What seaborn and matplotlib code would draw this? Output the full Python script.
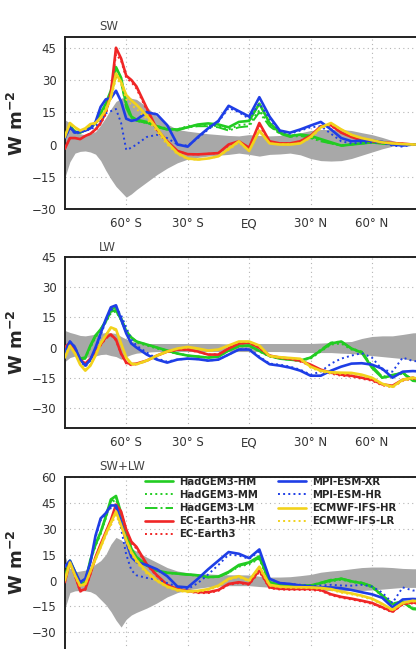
import matplotlib
matplotlib.use("Agg")
import matplotlib.pyplot as plt
from matplotlib.lines import Line2D
from matplotlib.ticker import MultipleLocator
import seaborn as sns

# ---------------- data ----------------
LAT = [-90, -87.5, -85, -82.5, -80, -77.5, -75, -72.5, -70, -67.5, -65, -62.5, -60, -57.5, -55,
       -50, -45, -40, -35, -30, -25, -20, -15, -10, -5, 0, 5, 10, 15, 20, 25, 30, 35, 40, 45,
       50, 55, 60, 65, 70, 75, 80, 85, 90]

MODELS = ["HadGEM3-HM", "HadGEM3-MM", "HadGEM3-LM", "EC-Earth3-HR", "EC-Earth3",
          "MPI-ESM-XR", "MPI-ESM-HR", "ECMWF-IFS-HR", "ECMWF-IFS-LR"]

XTICKS = [-60, -30, 0, 30, 60]
XTICKLABELS = ["60° S", "30° S", "EQ", "30° N", "60° N"]
PANEL_TITLES = ["SW", "LW", "SW+LW"]

# SW panel
sw_band_lo = [-15.5, -8, -4, -3.2, -3, -3.5, -4.5, -7.5, -12, -16, -19.5, -22, -24.5, -23, -21,
              -17.5, -14, -11, -8.5, -6.8, -6, -5.4, -5, -4.6, -4, -4.6, -5.4, -4.6, -4.4, -4, -4.8,
              -6.5, -7.5, -7.7, -7.5, -6.5, -5, -3.5, -2, -0.8, 0, 0, 0, 0]
sw_band_hi = [11.5, 10, 6, 5, 4.5, 5, 6, 9, 12.5, 16.5, 20, 21.5, 22.5, 21.5, 21,
              17.5, 13, 9.5, 7, 6.2, 5.6, 5, 4.6, 4.2, 4, 4.6, 4.2, 4, 4.2, 4.6, 5.4,
              6.5, 7, 7, 7, 6.5, 5.5, 4.6, 3.3, 1.8, 0.5, 0, 0, 0]
sw_had_hm = [4, 8.5, 6, 5.5, 7, 8, 10, 14.5, 19, 25, 36, 31, 19, 13, 11.5,
             10.5, 8.5, 7, 7, 8, 9.3, 9.8, 9.3, 8, 10.5, 11, 19, 10, 5.5, 4, 4.6,
             4, 2.5, 1, -0.5, 0, 0.5, 1, 0.5, 0.2, 0, 0, 0, 0]
sw_had_mm = [4, 8, 6, 5.5, 6.5, 8, 10, 14, 18.5, 24, 33, 30, 18, 12.5, 11,
             10, 8.5, 7.5, 7, 8.5, 9, 9, 8.5, 7, 9, 9.5, 16, 9, 5, 4, 4.5,
             3.5, 2, 0.5, -0.5, 0, 0.5, 1, 0.5, 0.2, 0, 0, 0, 0]
sw_had_lm = [4, 8, 5.5, 5.5, 6.5, 7.5, 9.5, 13.5, 18, 23, 32, 29, 17, 12, 11,
             10, 8, 7, 6.5, 8, 8.5, 8.5, 8, 6.5, 8, 8.5, 15, 8.5, 5, 3.5, 4,
             3, 1.5, 0.5, -0.5, 0, 0.5, 1, 0.5, 0.2, 0, 0, 0, 0]
sw_ec_hr = [-2, 3, 3, 2.5, 4, 5, 7, 10, 15, 24, 45, 40, 32, 30, 27,
            17, 7, 1.5, -3, -4.5, -4.6, -4.3, -4, 0, 1.5, -1.5, 10, 1.5, 0.5, 0.5, 1.5,
            4, 8.5, 9, 5.5, 3.5, 2, 1.5, 1, 0.7, 0.4, 0, 0, 0]
sw_ec = [-2, 3, 3, 2.5, 4, 5, 6.5, 9.5, 14, 23, 42, 39, 31, 29, 26,
         16, 6.5, 1, -3, -4.5, -4.6, -4.3, -4, -0.5, 1, -2, 9, 1, 0.5, 0.5, 1.5,
         4, 8, 8.5, 5.5, 3.5, 2, 1.5, 1, 0.7, 0.4, 0, 0, 0]
sw_mpi_xr = [3, 8, 5.5, 6, 6.5, 7.5, 10.5, 17.5, 21, 21.5, 25, 20, 12, 11, 11.5,
             15, 14, 9, 0, -1, 3.5, 7.5, 11, 18, 15.5, 13, 22, 13, 6.5, 5.5, 7,
             8.8, 10.5, 7, 3, 1.5, 1.8, 1.8, 1.2, 0, -0.5, 0, 0, 0]
sw_mpi_hr = [3, 7.5, 5, 5.5, 6.5, 7, 8.5, 11, 14.5, 15.5, 16.5, 10, -2.5, -1.5, 0,
             3.5, 4.5, 3, 0, -0.5, 3, 7, 10.5, 17, 15, 12, 19, 12, 6, 5, 6.5,
             8, 8.5, 5, 1.5, 0.5, 0.8, 1, 0.8, -0.5, -1, 0, 0, 0]
sw_ifs_hr = [3.5, 10, 8, 6.5, 7.5, 9.5, 10, 12.5, 16, 22, 33, 29, 23, 20.5, 18.5,
             13.5, 7.5, 1, -4, -6.5, -7, -6.5, -5.5, -2, 1.5, -3, 6.5, 0.5, 0, 0, 0.5,
             3.5, 8, 10, 7, 4.5, 3, 2, 1, 0.5, 0.2, 0, 0, 0]
sw_ifs_lr = [3.5, 9.5, 7.5, 6.5, 7, 9, 9.5, 12, 15.5, 21, 31, 28, 21, 18.5, 16.5,
             12, 6, 0, -4.5, -6.8, -7, -6.5, -5.5, -2.5, 1, -3, 6, 0.5, 0, 0, 0.5,
             3, 7.5, 9.5, 7, 4.5, 3, 2, 1, 0.5, 0.2, 0, 0, 0]

# LW panel
lw_band_lo = [-7, -5, -4.2, -4.8, -5, -4.5, -4.2, -3.5, -3.3, -4, -4.5, -5.8, -4.5, -3.5, -2.8,
              -2.3, -2, -2, -2, -2, -2, -2, -2, -2, -2, -2, -2, -2, -2, -2.2, -2.5,
              -2.5, -2.5, -2.5, -2.8, -3, -3.5, -4, -4.5, -5, -5.5, -6.5, -7, -7]
lw_band_hi = [8.5, 7.5, 6.8, 6, 5.8, 6.2, 6.7, 7, 7.5, 7.3, 7, 5.5, 4.2, 3.2, 2.5,
              2, 2, 2, 2, 2, 2, 2, 2, 1.8, 2, 2, 2, 2, 2, 2, 2,
              2, 2.2, 2.5, 2.8, 3, 4.5, 5.5, 5.8, 5.8, 6.5, 7.3, 7.5, 7.5]
lw_had_hm = [-2, 1.5, -1, -5.5, -5, 1, 6, 9, 13, 18, 18.5, 14, 8, 5, 3,
             1.5, 0, -1.5, -3, -4, -4.5, -5, -4.5, -1.5, 0.8, 1, -1.7, -4.2, -5.5, -6, -6.5,
             -5, -1.5, 2, 3, -0.5, -2.5, -10, -15, -14, -12.5, -16.5, -17, -17]
lw_had_mm = [-2, 1.5, -1.5, -6, -5.5, 0, 5, 8.5, 12.5, 17, 18, 13.5, 7.5, 4.5, 2.5,
             1, -0.5, -2, -3, -4, -4.5, -5, -4.5, -1.5, 0.5, 0.8, -2, -4.5, -5.5, -6, -6.5,
             -5.5, -2, 1.5, 2, -1, -2.5, -9.5, -15, -14, -13, -16.5, -17, -17]
lw_had_lm = [-2, 1, -1.5, -6, -5.5, 0.5, 5.5, 9, 13.5, 19, 20, 15, 8.5, 5, 3,
             1.5, 0, -1.5, -3, -4, -4.5, -5, -4.5, -1.5, 0.5, 1, -1.5, -4, -5.5, -6, -6.5,
             -5, -1, 2.5, 3, -0.5, -2, -9, -14.5, -13.5, -12.5, -16, -17, -17]
lw_ec_hr = [0, 2.5, -1.5, -6, -8, -5.5, -2, 1.5, 5, 6.5, 4, -3, -7.5, -8.3, -8,
            -6.5, -4, -2, -1, -1, -2, -3.5, -3.5, -0.5, 2, 2.5, 0, -4, -5, -5.5, -6.5,
            -8.5, -11, -12.5, -13.5, -14, -15, -16, -18.3, -19, -16, -15, -17, -17]
lw_ec = [0, 2, -2, -6.5, -8.5, -6, -2.5, 1, 4.5, 6, 3.5, -3.5, -8, -8.8, -8.3,
         -6.5, -4.2, -2.2, -1.2, -1.2, -2.2, -3.5, -3.3, -0.5, 2, 2.2, -0.3, -4.2, -5.2, -5.8, -7,
         -9, -11.5, -13, -14, -14.5, -15.5, -16.5, -18.8, -19.5, -16.5, -15.5, -17, -17]
lw_mpi_xr = [-2.5, 3, 0, -6, -9, -6, 0, 7, 14, 20, 21, 14, 7, 2, 0,
             -3.5, -6, -7.5, -6, -5.5, -5.8, -6.5, -6, -3.5, -1, -1, -5, -8.3, -9, -10, -11.5,
             -14, -14, -11.5, -9.5, -8, -7.8, -8.5, -10.5, -15, -12, -11.7, -12, -12]
lw_mpi_hr = [-1.5, 3, 0.5, -6.5, -9.5, -6.5, -0.5, 6, 13, 18.5, 20, 16, 10, 4, 1,
             -2.5, -5.5, -7, -6, -5.5, -5.8, -6.5, -6, -3.5, -1, -0.5, -4.5, -8, -8.5, -9.5, -11,
             -13.5, -12, -8, -5.5, -4, -2.8, -5, -11, -12, -5, -6.7, -7, -7]
lw_ifs_hr = [-5, 0.8, -3, -8.5, -11.5, -9, -4, 2, 6, 10, 9, 2, -5, -8, -8.3,
             -6.5, -4, -2, -0.5, 0.3, -0.5, -1.5, -1, 1, 3, 3, 1, -4.2, -4.8, -5.2, -5.6,
             -9.5, -11.5, -12.3, -12.5, -12.6, -13.5, -15, -18, -19.5, -16, -15, -16, -16]
lw_ifs_lr = [-4.5, 1, -3, -8, -11, -8.5, -3.5, 2.5, 6.5, 9.5, 8.5, 1.5, -5.5, -8.5, -8.5,
             -6.8, -4.2, -2.2, -0.7, 0, -0.8, -1.8, -1.2, 0.8, 2.8, 2.8, 0.7, -4.5, -5, -5.4, -5.8,
             -10, -12, -12.8, -13, -13, -14, -15.5, -18.5, -20, -16.5, -15.5, -16.5, -16.5]

# SW+LW panel
net_band_lo = [-16.5, -7, -6, -5.8, -6, -6.5, -8, -11, -14, -18, -23, -27, -22.5, -20, -18.5,
               -16, -13, -9.5, -7, -5.5, -4.5, -3.7, -3.3, -3, -3, -3, -3.5, -3.9, -3.5, -3.9, -4.5,
               -5, -5.5, -5.8, -5.8, -5.8, -5.8, -5.5, -5, -4.5, -4, -4, -4, -4]
net_band_hi = [14.5, 7, 5, 5.5, 6, 7, 9.5, 11.5, 15, 21, 25, 23.5, 20.5, 18.5, 17,
               13.5, 10.5, 7.5, 5.5, 4.5, 4, 3.8, 3.5, 3.3, 3.3, 3.2, 2.5, 2, 2, 2.2, 2.8,
               3.5, 4.8, 5.5, 6, 6.8, 7.5, 7.8, 7.8, 7.5, 7, 6.8, 6.8, 6.8]
net_had_hm = [2, 11.5, 5, -2, -1, 12, 21, 28, 37, 47, 49, 39, 28, 18.5, 13.6,
              8.8, 5.8, 4.5, 4, 3.5, 3, 2, 2.3, 5, 9, 10.5, 14, -1, -2.5, -2.9, -2.9,
              -2.9, -1.5, 0, 1, -0.5, -1.5, -3.5, -8.8, -13.6, -12.5, -16.5, -17, -17]
net_had_mm = [2, 11, 4.5, -2.5, -1.5, 11, 20, 27, 36, 45, 47, 38, 27, 18, 13,
              8.5, 5.5, 4.5, 4, 3.5, 3, 2, 2, 4.5, 8, 9.5, 12.5, -1.5, -2.8, -3, -3,
              -3, -1.8, -0.5, 0.5, -0.8, -1.8, -4, -9, -14, -13, -16.5, -17, -17]
net_had_lm = [2, 11, 4.5, -2.5, -1.5, 11.5, 20.5, 27.5, 36.5, 46, 48, 38.5, 27.5, 18, 13.2,
              8.6, 5.6, 4.3, 3.8, 3.3, 2.8, 1.8, 2, 4.5, 8.5, 10, 13, -1.2, -2.6, -3, -3,
              -2.8, -1.2, 0.5, 1.2, -0.3, -1.2, -3.2, -8.5, -13.2, -12.2, -16, -16.5, -16.5]
net_ec_hr = [-1, 11, 3, -6, -5, 4, 13.5, 21, 28, 35, 44, 40, 29.5, 22.5, 19.5,
             9.5, 3, -2.5, -5, -6, -6.8, -6.8, -5.5, -2, -1, -2, 6, -4, -4.8, -4.9, -4.9,
             -4.9, -5.5, -8, -9.5, -10.5, -11.7, -13, -15.5, -18, -13.5, -12.7, -14, -14]
net_ec = [-1, 10.5, 2.5, -6.5, -5.5, 3.5, 13, 20, 27, 33, 41, 38, 28, 21.5, 18.5,
          9, 2.5, -3, -5.5, -6.5, -7.3, -7.3, -6, -2.5, -1.5, -2.5, 5, -4.5, -5.2, -5.4, -5.4,
          -5.5, -6, -8.5, -10, -11, -12.2, -13.5, -16, -18.5, -14, -13.2, -14.5, -14.5]
net_mpi_xr = [8, 11.5, 5, -1, 1, 10.5, 26, 36, 39, 43.5, 43.5, 34, 22.4, 13.6, 10.7,
              9, 6.5, 2.5, -3.5, -4, 1, 6.5, 11.5, 16.5, 15.5, 13, 18, 1, -1.5, -2, -2.9,
              -3.5, -4, -4, -4.5, -5.5, -6.8, -8, -10, -15.5, -11, -10.7, -11, -11]
net_mpi_hr = [8, 11, 4.5, -1.5, 0.5, 10, 25, 35, 38.5, 42, 42, 30, 15, 6, 3,
              1.5, 0.5, -1.5, -3.5, -5, -1.5, 3.5, 9, 15, 14.5, 12.5, 17, 1, -1.5, -2, -2.5,
              -3, -3, -2.5, -2.9, -3, -2.5, -3.5, -7, -13, -4, -5.8, -6, -6]
net_ifs_hr = [0, 10.5, 3, -3, -2, 5.5, 12.5, 19.5, 27, 33.5, 40, 32, 23.5, 16.5, 11.7,
              5, 0, -3.5, -5.5, -6.3, -6, -5, -3, 1, 2.5, 0, 8, -2.5, -3.5, -3.8, -3.9,
              -4, -4.3, -5, -6.5, -7.5, -8.8, -10.5, -13.5, -17, -13, -11.7, -12.5, -12.5]
net_ifs_lr = [0, 10, 2.5, -3.5, -2.5, 5, 12, 19, 26, 32, 38, 31, 22.5, 15.5, 10.5,
              4, -0.5, -4, -6, -6.8, -6.5, -5.5, -3.5, 0.5, 2, -0.5, 7, -3, -4, -4.2, -4.3,
              -4.5, -4.8, -5.5, -7, -8, -9.3, -11, -14, -17.5, -13.5, -12.2, -13, -13]

PANELS = [
    dict(band=(sw_band_lo, sw_band_hi),
         series=[sw_had_hm, sw_had_mm, sw_had_lm, sw_ec_hr, sw_ec, sw_mpi_xr, sw_mpi_hr, sw_ifs_hr, sw_ifs_lr],
         yticks=[-30, -15, 0, 15, 30, 45], ylim=(-30, 50)),
    dict(band=(lw_band_lo, lw_band_hi),
         series=[lw_had_hm, lw_had_mm, lw_had_lm, lw_ec_hr, lw_ec, lw_mpi_xr, lw_mpi_hr, lw_ifs_hr, lw_ifs_lr],
         yticks=[-30, -15, 0, 15, 30, 45], ylim=(-40, 45)),
    dict(band=(net_band_lo, net_band_hi),
         series=[net_had_hm, net_had_mm, net_had_lm, net_ec_hr, net_ec, net_mpi_xr, net_mpi_hr, net_ifs_hr, net_ifs_lr],
         yticks=[-30, -15, 0, 15, 30, 45, 60], ylim=(-40, 60)),
]

# ---------------- style ----------------
GREEN, RED, BLUE, YELLOW = "#22cc22", "#f02626", "#1e3ee6", "#f2d21c"
COLORS = [GREEN, GREEN, GREEN, RED, RED, BLUE, BLUE, YELLOW, YELLOW]
STYLES = ["-", ":", "-.", "-", ":", "-", ":", "-", ":"]
WIDTHS = [1.9, 1.4, 1.4, 1.9, 1.4, 1.9, 1.4, 1.9, 1.4]

sns.set_style("white")
plt.rcParams["font.family"] = ["DejaVu Sans"]
plt.rcParams["axes.unicode_minus"] = True

W, H = 416, 649
fig = plt.figure(figsize=(W / 100, H / 100), dpi=100)


def axpos(left, top, right, bottom):
    return [left / W, 1 - bottom / H, (right - left) / W, (bottom - top) / H]


boxes = [(64.8, 37, 433.4, 209), (64.8, 257, 433.4, 428), (64.8, 477, 433.4, 649.5)]
title_y = [27, 247, 467]

axes = []
for i, (p, box) in enumerate(zip(PANELS, boxes)):
    ax = fig.add_axes(axpos(*box))
    axes.append(ax)
    lo, hi = p["band"]
    ax.fill_between(LAT, lo, hi, color="#a8a8a8", lw=0, zorder=1)
    for vals, c, ls, lw in zip(p["series"], COLORS, STYLES, WIDTHS):
        sns.lineplot(x=LAT, y=vals, ax=ax, color=c, linestyle=ls, linewidth=lw,
                     legend=False, zorder=3)
    ax.set_xlim(-90, 90)
    ax.set_ylim(*p["ylim"])
    ax.set_xticks(XTICKS)
    ax.set_xticklabels(XTICKLABELS)
    ax.set_yticks(p["yticks"])
    ax.xaxis.set_minor_locator(MultipleLocator(2))
    ax.tick_params(axis="both", which="major", direction="out", length=3.5, width=1,
                   labelsize=8.5, labelcolor="#333333", color="#222222", pad=2.5)
    ax.tick_params(axis="x", which="minor", direction="in", length=2, width=0.8,
                   color="#444444")
    if i == 2:
        ax.tick_params(axis="x", which="both", labelbottom=False)
    ax.grid(True, which="major", linestyle=(0, (1, 3)), color="#b5b5b5", lw=0.8)
    ax.set_axisbelow(True)
    ax.set_xlabel("")
    ax.set_ylabel("")
    for s in ax.spines.values():
        s.set_linewidth(1.4)
        s.set_color("#222222")
    fig.text(99 / W, 1 - title_y[i] / H, PANEL_TITLES[i], fontsize=8.5, color="#444444",
             ha="left", va="center")
    cy = (box[1] + box[3]) / 2 if i < 2 else 562
    fig.text(17 / W, 1 - cy / H, r"W m$^{\mathbf{-2}}$", rotation=90, fontsize=13,
             fontweight="bold", ha="center", va="center")

handles = [Line2D([0], [0], color=c, linestyle=ls, lw=lw)
           for c, ls, lw in zip(COLORS, STYLES, WIDTHS)]
axes[2].legend(handles, MODELS, ncol=2, loc="upper left",
               bbox_to_anchor=(145 / W, 1 - 477 / H), bbox_transform=fig.transFigure,
               frameon=False, prop={"weight": "bold", "size": 7.3},
               handlelength=2.8, handletextpad=0.6, columnspacing=1.9,
               labelspacing=0.3, borderpad=0, borderaxespad=0)

fig.savefig("out.png", dpi=100)
